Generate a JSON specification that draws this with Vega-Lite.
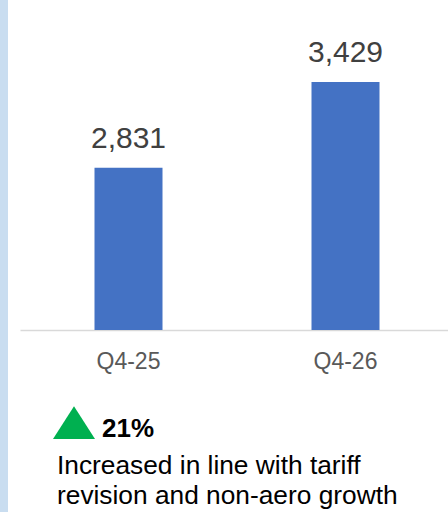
{
  "$schema": "https://vega.github.io/schema/vega-lite/v6.json",
  "padding": 0,
  "spacing": 12,
  "config": {"view": {"stroke": null}, "font": "Liberation Sans"},
  "hconcat": [
    {
      "width": 8,
      "height": 512,
      "view": {"fill": "#C9DDF0", "stroke": null},
      "data": {"values": [{}]},
      "mark": {"type": "point", "opacity": 0},
      "encoding": {}
    },
    {
      "width": 434,
      "height": 330,
      "title": {
        "text": ["Increased in line with tariff", "revision and non-aero growth"],
        "orient": "bottom",
        "anchor": "start",
        "frame": "group",
        "dx": 37,
        "offset": 11,
        "fontSize": 26.3,
        "fontWeight": "normal",
        "color": "#000000",
        "lineHeight": 30
      },
      "layer": [
        {
          "data": {"values": [
            {"quarter": "Q4-25", "value": 2831},
            {"quarter": "Q4-26", "value": 3429}
          ]},
          "layer": [
            {
              "mark": {"type": "bar", "size": 68, "color": "#4472C4"},
              "encoding": {
                "x": {"field": "quarter", "type": "nominal", "sort": null,
                  "axis": {"title": null, "labelAngle": 0, "labelFontSize": 23, "labelColor": "#595959",
                    "labelPadding": 20, "ticks": false, "domainColor": "#D9D9D9", "domainWidth": 1.5}},
                "y": {"field": "value", "type": "quantitative",
                  "scale": {"domain": [1700, 4000], "zero": false, "nice": false}, "axis": null},
                "y2": {"datum": 1700}
              }
            },
            {
              "mark": {"type": "text", "fontSize": 30, "color": "#404040", "baseline": "alphabetic", "dy": -20},
              "encoding": {
                "x": {"field": "quarter", "type": "nominal", "sort": null},
                "y": {"field": "value", "type": "quantitative"},
                "text": {"field": "value", "type": "quantitative", "format": ","}
              }
            }
          ]
        },
        {
          "data": {"values": [{"change": "21%"}]},
          "layer": [
            {
              "mark": {"type": "point", "shape": "M-1,0.78L1,0.78L0,-0.78Z", "size": 1764, "filled": true, "opacity": 1, "color": "#00B050", "xOffset": -54.5},
              "encoding": {
                "x": {"datum": "Q4-25"},
                "y": {"datum": 1055}
              }
            },
            {
              "mark": {"type": "text", "fontSize": 26, "fontWeight": "bold", "color": "#000000", "align": "left", "baseline": "alphabetic", "dx": -26.5},
              "encoding": {
                "x": {"datum": "Q4-25"},
                "y": {"datum": 954},
                "text": {"field": "change"}
              }
            }
          ]
        }
      ]
    }
  ]
}
